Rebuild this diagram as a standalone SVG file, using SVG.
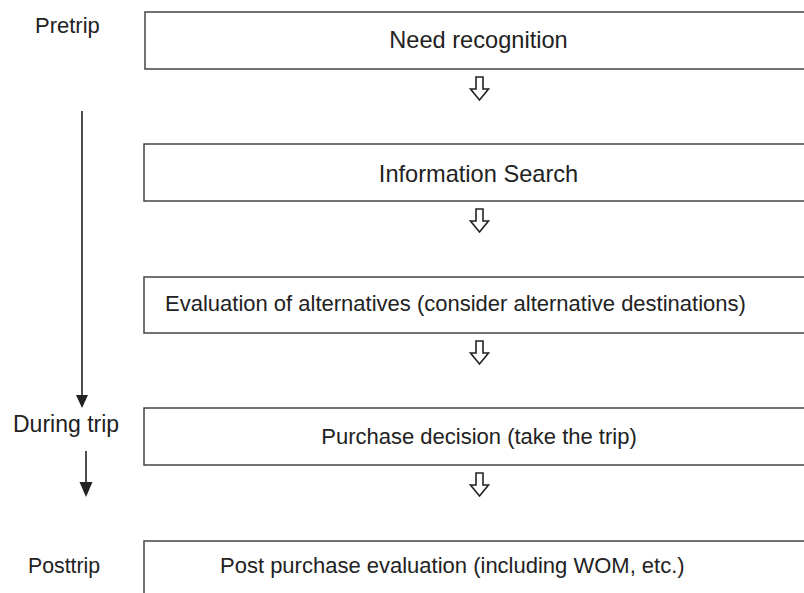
<svg xmlns="http://www.w3.org/2000/svg" width="804" height="593" viewBox="0 0 804 593">
<style>
.box{fill:#fff;stroke:#444;stroke-width:1.5}
.t{font-family:"Liberation Sans",Arial,sans-serif;font-size:22px;fill:#222}
.big{font-size:23.6px}
.c{text-anchor:middle}
.ho{fill:#fff;stroke:#222;stroke-width:1.6;stroke-linejoin:miter}
.ln{stroke:#222;stroke-width:1.6;fill:none}
.hd{fill:#222}
</style>
<defs>
<path id="hollow" d="M-3.5,0 H3.5 V12 H9 L0,23 L-9,12 H-3.5 Z"/>
</defs>
<rect width="804" height="593" fill="#fff"/>
<g id="phase-labels">
<text class="t" x="35" y="33">Pretrip</text>
<text class="t" x="13" y="432" style="font-size:23px">During trip</text>
<text class="t" x="28" y="573" style="font-size:21.3px">Posttrip</text>
</g>
<g id="node-need">
<rect class="box" x="145" y="12" width="680" height="57"/>
<text class="t big c" x="478.5" y="47.7">Need recognition</text>
</g>
<g id="node-info">
<rect class="box" x="144" y="144" width="680" height="57"/>
<text class="t big c" x="478.5" y="182">Information Search</text>
</g>
<g id="node-eval">
<rect class="box" x="144" y="277" width="680" height="56"/>
<text class="t" x="165" y="310.5">Evaluation of alternatives (consider alternative destinations)</text>
</g>
<g id="node-purchase">
<rect class="box" x="144" y="408" width="680" height="57"/>
<text class="t c" x="479" y="444">Purchase decision (take the trip)</text>
</g>
<g id="node-post">
<rect class="box" x="144" y="541" width="680" height="70"/>
<text class="t" x="220" y="573">Post purchase evaluation (including WOM, etc.)</text>
</g>
<g id="connectors">
<use href="#hollow" class="ho" transform="translate(479.5,77)"/>
<use href="#hollow" class="ho" transform="translate(479.5,209)"/>
<use href="#hollow" class="ho" transform="translate(479.5,341)"/>
<use href="#hollow" class="ho" transform="translate(479.5,473)"/>
<line class="ln" x1="82" y1="111" x2="82" y2="397"/>
<polygon class="hd" points="76,395 88,395 82,408"/>
<line class="ln" x1="86" y1="451" x2="86" y2="484"/>
<polygon class="hd" points="79.5,482 92.5,482 86,497"/>
</g>
</svg>
